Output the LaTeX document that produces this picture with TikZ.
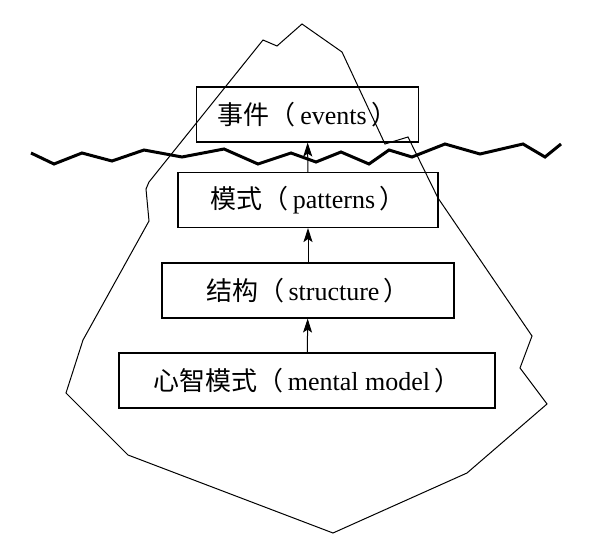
\documentclass[tikz,border=0pt]{standalone}
\usepackage{fontspec}
\setmainfont{Liberation Serif}
\newfontfamily\cjk{Noto Sans CJK SC}
\usetikzlibrary{arrows.meta}
\tikzset{
  level/.style={draw, line width=1.1pt, minimum height=55pt, inner sep=0pt,
    font=\fontsize{26}{30}\selectfont},
  berg/.style={line width=1pt, line join=miter},
  water/.style={line width=3pt, line join=miter},
  up/.style={-{Stealth[length=14pt,width=9pt,inset=3pt]}, line width=1pt}
}
\begin{document}
\begin{tikzpicture}[x=1pt,y=-1pt]
\useasboundingbox (0,0) rectangle (608,543);
% iceberg
\draw[berg] (302,24) -- (342,52) -- (385,144) -- (408,137) -- (438,198)
  -- (532,336) -- (520,368) -- (547,404) -- (467,473) -- (333,533)
  -- (128,455) -- (66,393) -- (83,340) -- (149,221) -- (146,189)
  -- (149,182) -- (263,40) -- (277,46) -- cycle;
% water line
\draw[water] (31,153) -- (54,164) -- (82,153) -- (112,161) -- (144,150)
  -- (182,157) -- (224,149) -- (258,164) -- (291,153) -- (316,162)
  -- (341,152) -- (369,164) -- (389,150) -- (412,157) -- (445,144)
  -- (480,154) -- (523,144) -- (545,157) -- (561,144);
% levels
\node[level, minimum width=222pt] (events) at (307.5,114.5)
  {{\cjk 事件（}\,events\,{\cjk ）}};
\node[level, minimum width=260pt] (patterns) at (308,200)
  {{\cjk 模式（}\,patterns\,{\cjk ）}};
\node[level, minimum width=292pt] (structure) at (308,290.5)
  {{\cjk 结构（}\,structure\,{\cjk ）}};
\node[level, minimum width=376pt] (mental) at (307,380.5)
  {{\cjk 心智模式（}\,mental model\,{\cjk ）}};
\foreach \a/\b in {patterns/events,structure/patterns,mental/structure}
  \draw[up] (\a) -- (\b);
\end{tikzpicture}
\end{document}
